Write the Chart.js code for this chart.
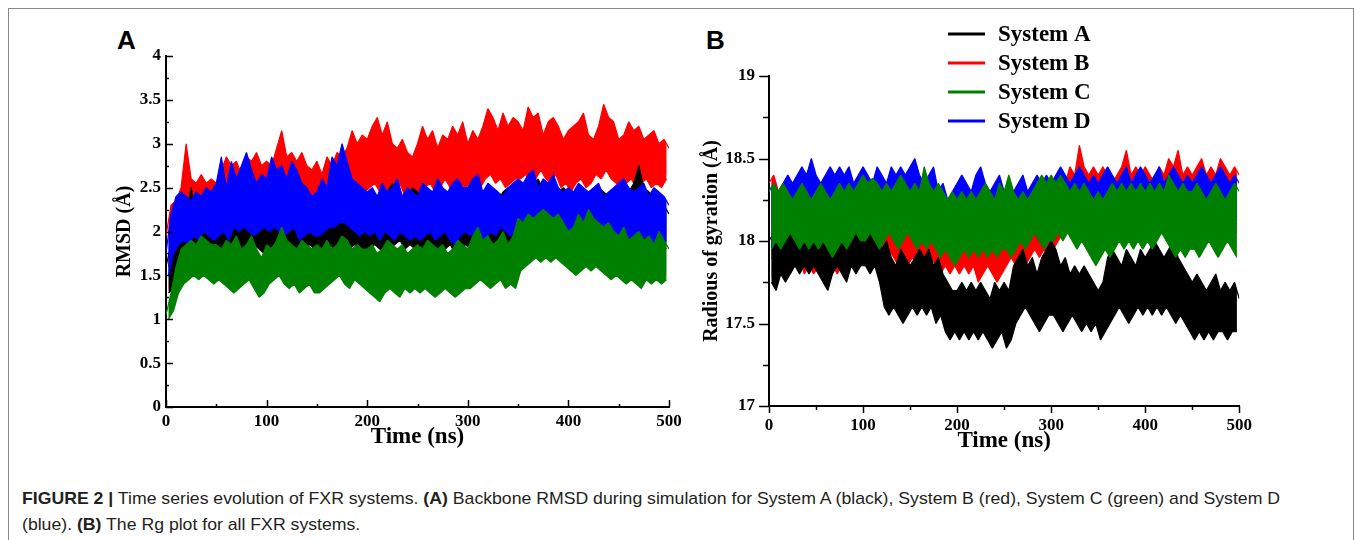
<!DOCTYPE html>
<html><head><meta charset="utf-8">
<script src="https://cdn.jsdelivr.net/npm/chart.js@4.4.1/dist/chart.umd.min.js"></script>
<style>
html,body{margin:0;padding:0;background:#fff;width:1355px;height:540px;overflow:hidden;position:relative;}
#frame{position:absolute;left:8px;top:8px;width:1346px;height:620px;border:1px solid #8a8a8a;box-sizing:border-box;}
canvas{position:absolute;}
#cA{left:96px;top:40px;}
#cB{left:690px;top:20px;}
.plabel{position:absolute;font-family:'Liberation Sans',Arial,sans-serif;font-weight:bold;font-size:26px;line-height:26px;color:#000;}
.cap{position:absolute;left:22px;font-family:'Liberation Sans',Arial,sans-serif;font-size:17px;line-height:20px;color:#231f20;white-space:nowrap;transform-origin:0 50%;display:inline-block;}
</style></head>
<body>
<div id="frame"></div>
<div class="plabel" style="left:117px;top:27px;">A</div>
<div class="plabel" style="left:706px;top:27px;">B</div>
<canvas id="cA" width="593" height="420"></canvas>
<canvas id="cB" width="571" height="440"></canvas>
<div class="cap" id="cap1" style="top:489px;"><b>FIGURE 2 |</b> Time series evolution of FXR systems. <b>(A)</b> Backbone RMSD during simulation for System A (black), System B (red), System C (green) and System D</div>
<div class="cap" id="cap2" style="top:515px;">(blue). <b>(B)</b> The Rg plot for all FXR systems.</div>
<script>
// ---- Sampling: envelope maxima read at t = 0,5,...,500 ns, minima at t = 2.5,7.5,...,497.5 ns ----
const STEP_NS = 5;
const seriesLabels = ['System A', 'System B', 'System C', 'System D'];
const seriesColors = ['#000000', '#ff0000', '#008000', '#0000ff'];

// Panel A: RMSD (Å)
const rmsdA_hi = [1.6,1.85,2.05,2.1,2.2,2.5,2.15,2.25,2.2,2.3, 2.25,2.35,2.3,2.5,2.35,2.4,2.3,2.4,2.45,2.3, 2.4,2.35,2.45,2.3,2.4,2.35,2.3,2.25,2.3,2.4, 2.35,2.3,2.45,2.4,2.55,2.35,2.45,2.3,2.25,2.35, 2.3,2.4,2.35,2.3,2.45,2.55,2.4,2.35,2.3,2.5, 2.45,2.35,2.4,2.3,2.35,2.45,2.4,2.5,2.35,2.45, 2.4,2.35,2.5,2.45,2.3,2.4,2.35,2.45,2.5,2.4, 2.45,2.5,2.4,2.55,2.6,2.45,2.5,2.55,2.45,2.5, 2.45,2.4,2.5,2.45,2.35,2.4,2.5,2.45,2.4,2.35, 2.4,2.5,2.45,2.55,2.75,2.5,2.45,2.4,2.35,2.3, 2.2];
const rmsdA_lo = [1.3,1.35,1.4,1.5,1.45,1.55,1.6,1.65,1.7,1.75, 1.75,1.8,1.75,1.8,1.85,1.75,1.8,1.85,1.8,1.75, 1.8,1.85,1.8,1.75,1.85,1.8,1.75,1.8,1.85,1.8, 1.8,1.75,1.85,1.8,1.85,1.9,1.8,1.85,1.8,1.75, 1.8,1.85,1.8,1.75,1.8,1.85,1.9,1.8,1.85,1.8, 1.75,1.8,1.85,1.8,1.75,1.8,1.85,1.75,1.8,1.85, 1.8,1.85,1.9,1.85,1.8,1.85,1.8,1.85,1.9,1.85, 1.9,1.95,1.9,1.95,2.0,1.95,1.9,1.95,1.9,1.85, 1.85,1.9,1.85,1.8,1.85,1.9,1.85,1.8,1.85,1.9, 1.85,1.8,1.85,1.9,1.85,1.8,1.85,1.8,1.85,1.8];
const rmsdB_hi = [1.95,2.3,2.35,2.5,3.0,2.6,2.55,2.65,2.55,2.6, 2.55,2.7,2.85,2.75,2.8,2.65,2.85,2.8,2.9,2.75, 2.8,2.75,2.95,3.15,2.85,2.9,2.8,2.9,2.75,2.7, 2.8,2.65,2.85,2.75,2.9,2.85,2.95,3.15,3.0,3.1, 3.05,3.2,3.3,3.1,3.25,3.0,2.95,3.05,2.9,2.85, 3.0,3.2,3.05,3.15,2.95,3.1,3.05,3.2,3.1,3.25, 3.0,3.15,3.05,3.2,3.4,3.3,3.15,3.35,3.2,3.3, 3.25,3.15,3.42,3.3,3.35,3.1,3.25,3.3,3.2,3.05, 3.15,3.2,3.25,3.35,3.1,3.05,3.2,3.45,3.3,3.25, 3.05,3.1,3.25,3.15,3.2,3.05,3.1,3.15,3.0,3.05, 2.95];
const rmsdB_lo = [1.6,1.8,2.05,2.1,2.2,2.15,2.25,2.2,2.1,2.2, 2.25,2.3,2.35,2.3,2.4,2.35,2.3,2.4,2.45,2.35, 2.4,2.35,2.45,2.5,2.4,2.35,2.45,2.4,2.3,2.35, 2.3,2.35,2.4,2.45,2.3,2.5,2.45,2.55,2.5,2.45, 2.5,2.55,2.45,2.4,2.5,2.45,2.55,2.4,2.35,2.3, 2.4,2.5,2.55,2.45,2.5,2.6,2.5,2.45,2.55,2.5, 2.55,2.6,2.5,2.6,2.65,2.55,2.6,2.5,2.55,2.6, 2.6,2.65,2.55,2.6,2.7,2.6,2.55,2.65,2.5,2.55, 2.45,2.55,2.6,2.5,2.55,2.65,2.6,2.7,2.6,2.55, 2.5,2.55,2.6,2.5,2.55,2.6,2.5,2.55,2.5,2.6];
const rmsdC_hi = [1.05,1.3,1.6,1.8,1.85,1.9,1.85,1.95,1.9,1.85, 1.85,1.8,1.9,1.85,1.95,1.8,1.85,1.95,1.8,1.7, 1.85,1.8,1.9,2.05,1.9,1.85,1.8,1.9,1.85,1.8, 1.85,1.8,1.9,1.8,1.85,1.95,1.9,1.8,1.85,1.8, 1.8,1.85,1.75,1.8,1.9,1.85,1.8,1.85,1.75,1.8, 1.85,1.8,1.9,1.85,1.8,1.85,1.75,1.8,1.9,1.85, 1.8,1.95,2.05,1.9,1.95,1.85,1.9,2.0,1.85,1.95, 2.15,2.1,2.2,2.15,2.2,2.25,2.2,2.15,2.2,2.1, 2.0,2.05,2.2,2.1,2.25,2.15,2.1,2.05,2.1,2.0, 1.95,2.05,1.9,1.95,2.0,1.9,1.95,1.85,2.0,1.9, 1.8];
const rmsdC_lo = [1.0,1.1,1.3,1.4,1.45,1.5,1.45,1.5,1.45,1.4, 1.45,1.4,1.35,1.3,1.35,1.4,1.45,1.35,1.25,1.3, 1.4,1.45,1.5,1.4,1.35,1.4,1.3,1.35,1.4,1.3, 1.3,1.35,1.4,1.45,1.5,1.4,1.35,1.45,1.4,1.35, 1.3,1.25,1.2,1.3,1.35,1.3,1.25,1.35,1.3,1.35, 1.3,1.35,1.3,1.25,1.3,1.35,1.3,1.25,1.3,1.35, 1.35,1.4,1.45,1.4,1.35,1.4,1.45,1.35,1.4,1.35, 1.55,1.6,1.65,1.7,1.65,1.7,1.65,1.7,1.65,1.6, 1.55,1.5,1.55,1.6,1.55,1.6,1.55,1.5,1.45,1.5, 1.45,1.4,1.45,1.4,1.35,1.45,1.4,1.45,1.4,1.45];
const rmsdD_hi = [1.75,2.2,2.4,2.45,2.4,2.35,2.45,2.4,2.5,2.45, 2.55,2.85,2.5,2.8,2.6,2.75,2.9,2.7,2.55,2.65, 2.6,2.85,2.7,2.75,2.6,2.8,2.7,2.55,2.5,2.4, 2.45,2.6,2.5,2.85,2.75,3.0,2.8,2.6,2.55,2.5, 2.45,2.5,2.4,2.55,2.45,2.5,2.6,2.4,2.5,2.45, 2.4,2.55,2.5,2.45,2.6,2.5,2.45,2.55,2.6,2.5, 2.5,2.6,2.65,2.45,2.55,2.5,2.45,2.4,2.5,2.55, 2.6,2.55,2.65,2.7,2.5,2.6,2.55,2.65,2.5,2.45, 2.5,2.45,2.55,2.5,2.45,2.5,2.55,2.4,2.45,2.5, 2.55,2.6,2.5,2.45,2.5,2.55,2.4,2.5,2.45,2.4, 2.3];
const rmsdD_lo = [1.5,1.75,1.85,1.9,1.85,1.95,1.9,2.0,1.95,1.9, 1.95,2.0,1.9,2.05,2.0,2.05,2.0,1.95,2.0,2.05, 2.0,2.05,2.0,1.95,2.0,2.05,1.9,1.95,2.0,1.95, 1.95,2.0,2.05,2.05,2.1,2.1,2.05,2.0,1.95,2.0, 1.95,2.0,1.9,2.0,1.95,1.9,2.0,1.95,1.9,1.95, 1.9,1.95,2.0,1.9,1.95,2.0,1.9,1.85,1.95,2.0, 1.95,2.0,1.95,1.9,2.0,1.95,2.05,2.0,1.95,2.0, 2.0,1.95,2.05,2.0,1.95,2.0,2.05,1.95,2.0,1.9, 1.9,1.85,1.95,2.0,1.9,1.95,1.85,1.9,1.95,1.9, 1.85,1.9,1.95,1.85,1.9,1.95,1.85,1.9,1.85,1.9];

// Panel B: Radius of gyration (Å)
const rgA_hi = [18.0,18.05,18.1,18.05,18.1,18.05,18.1,18.15,18.05,18.1, 18.05,18.1,18.0,18.2,18.3,18.1,18.05,18.15,18.1,18.05, 18.1,18.05,18.05,18.1,17.95,18.0,17.9,17.85,17.95,17.9, 17.85,17.9,17.95,17.9,17.95,17.85,17.9,17.8,17.75,17.7, 17.7,17.75,17.7,17.75,17.7,17.75,17.7,17.65,17.75,17.7, 17.75,17.7,17.85,17.9,17.95,17.85,17.9,17.8,17.9,17.95, 18.0,17.95,17.85,17.9,17.8,17.85,17.8,17.85,17.8,17.75, 17.7,17.75,17.9,17.95,17.9,17.85,17.95,17.9,17.85,17.95, 17.9,17.95,18.0,17.95,17.9,17.95,18.0,17.9,17.85,17.8, 17.75,17.8,17.75,17.7,17.75,17.8,17.7,17.75,17.7,17.75, 17.65];
const rgA_lo = [17.75,17.7,17.8,17.75,17.8,17.85,17.8,17.85,17.8,17.85, 17.8,17.75,17.7,17.8,17.85,17.8,17.75,17.85,17.8,17.85, 17.85,17.8,17.85,17.75,17.6,17.55,17.6,17.55,17.5,17.55, 17.6,17.55,17.6,17.55,17.6,17.5,17.55,17.45,17.4,17.45, 17.4,17.45,17.4,17.45,17.4,17.45,17.4,17.35,17.4,17.45, 17.35,17.4,17.5,17.55,17.6,17.55,17.5,17.45,17.5,17.55, 17.55,17.5,17.45,17.5,17.55,17.5,17.45,17.5,17.45,17.5, 17.4,17.45,17.5,17.55,17.6,17.55,17.5,17.55,17.6,17.55, 17.6,17.55,17.6,17.55,17.6,17.55,17.5,17.55,17.5,17.45, 17.4,17.45,17.4,17.45,17.4,17.45,17.45,17.4,17.45,17.45];
const rgB_hi = [18.35,18.4,18.3,18.35,18.3,18.25,18.3,18.25,18.3,18.25, 18.3,18.2,18.25,18.3,18.2,18.25,18.2,18.15,18.2,18.25, 18.2,18.25,18.2,18.15,18.2,18.1,18.15,18.2,18.15,18.1, 18.15,18.2,18.1,18.15,18.1,18.15,18.2,18.1,18.05,18.1, 18.1,18.15,18.1,18.05,18.1,18.15,18.1,18.05,18.1,18.15, 18.1,18.15,18.2,18.15,18.2,18.25,18.2,18.25,18.3,18.35, 18.3,18.35,18.4,18.35,18.45,18.4,18.58,18.45,18.4,18.45, 18.4,18.45,18.4,18.35,18.4,18.45,18.55,18.4,18.45,18.4, 18.45,18.4,18.35,18.45,18.4,18.5,18.45,18.55,18.4,18.45, 18.4,18.45,18.5,18.4,18.45,18.4,18.5,18.45,18.4,18.45, 18.4];
const rgB_lo = [17.9,17.85,17.9,17.85,17.8,17.85,17.9,17.8,17.85,17.8, 17.85,17.8,17.75,17.85,17.8,17.85,17.9,17.85,17.9,17.85, 17.9,17.95,17.9,17.85,17.9,17.95,17.9,17.85,17.9,17.85, 17.9,17.85,17.9,17.85,17.9,17.85,17.8,17.85,17.8,17.85, 17.8,17.85,17.8,17.85,17.75,17.8,17.85,17.8,17.75,17.8, 17.85,17.9,17.85,17.9,17.85,17.9,17.95,17.9,17.95,17.9, 17.95,18.0,18.05,18.1,18.05,18.1,18.05,18.1,18.05,18.0, 18.05,18.1,18.05,18.1,18.15,18.1,18.05,18.1,18.05,18.1, 18.1,18.05,18.1,18.05,18.1,18.15,18.1,18.05,18.1,18.05, 18.1,18.05,18.1,18.05,18.1,18.05,18.1,18.05,18.1,18.05];
const rgC_hi = [18.3,18.35,18.3,18.35,18.3,18.25,18.3,18.35,18.3,18.25, 18.3,18.35,18.3,18.25,18.3,18.35,18.3,18.35,18.3,18.35, 18.4,18.35,18.38,18.35,18.3,18.35,18.3,18.35,18.4,18.35, 18.3,18.35,18.3,18.45,18.35,18.3,18.35,18.3,18.25,18.3, 18.25,18.3,18.25,18.3,18.25,18.3,18.35,18.3,18.25,18.35, 18.3,18.4,18.3,18.25,18.3,18.25,18.3,18.35,18.4,18.35, 18.4,18.35,18.4,18.35,18.3,18.35,18.3,18.35,18.3,18.25, 18.3,18.25,18.3,18.35,18.3,18.35,18.3,18.35,18.3,18.35, 18.3,18.35,18.3,18.35,18.3,18.4,18.35,18.3,18.35,18.3, 18.3,18.35,18.3,18.25,18.3,18.35,18.3,18.25,18.3,18.35, 18.3];
const rgC_lo = [17.95,18.0,17.95,18.0,18.05,18.0,17.95,18.0,17.95,18.0, 17.95,18.0,17.95,17.9,17.95,18.0,17.95,18.0,18.05,18.0, 18.0,18.05,18.0,17.95,18.0,18.05,18.0,17.95,18.0,18.05, 18.0,17.95,18.0,17.95,18.0,17.95,17.9,17.95,17.9,17.85, 17.9,17.95,17.9,17.95,17.9,17.95,17.9,17.95,17.9,17.95, 17.95,17.9,17.95,18.0,17.95,18.0,18.05,18.0,17.95,18.0, 18.0,18.05,18.0,18.05,18.0,17.95,18.0,17.95,17.9,17.85, 17.9,17.95,17.9,17.95,18.0,17.95,18.0,17.95,18.0,17.95, 18.0,17.95,18.0,18.05,18.0,17.95,17.9,17.95,17.9,17.95, 17.95,17.9,17.95,18.0,17.95,17.9,17.95,18.0,17.95,17.9];
const rgD_hi = [18.3,18.35,18.3,18.35,18.4,18.35,18.4,18.45,18.4,18.5, 18.4,18.35,18.4,18.45,18.4,18.45,18.4,18.45,18.35,18.4, 18.45,18.4,18.35,18.45,18.4,18.35,18.45,18.4,18.45,18.4, 18.45,18.5,18.4,18.35,18.4,18.45,18.3,18.35,18.25,18.3, 18.35,18.4,18.35,18.3,18.4,18.45,18.35,18.3,18.35,18.4, 18.3,18.35,18.3,18.35,18.4,18.3,18.35,18.4,18.35,18.4, 18.35,18.4,18.45,18.4,18.35,18.4,18.45,18.4,18.35,18.4, 18.35,18.4,18.45,18.4,18.35,18.4,18.45,18.35,18.4,18.45, 18.4,18.35,18.4,18.45,18.35,18.4,18.45,18.4,18.35,18.4, 18.35,18.4,18.45,18.4,18.35,18.4,18.45,18.4,18.35,18.4, 18.35];
const rgD_lo = [17.95,18.0,18.05,18.1,18.05,18.1,18.05,18.1,18.15,18.1, 18.1,18.15,18.1,18.05,18.1,18.15,18.1,18.05,18.1,18.15, 18.1,18.15,18.1,18.05,18.1,18.15,18.1,18.05,18.1,18.05, 18.1,18.15,18.1,18.05,18.0,18.05,18.0,17.95,18.0,17.95, 18.0,17.95,18.0,18.05,18.0,17.95,18.0,17.95,18.05,18.0, 17.95,18.0,18.05,18.0,18.05,18.1,18.05,18.0,18.05,18.1, 18.1,18.05,18.1,18.15,18.1,18.05,18.1,18.15,18.1,18.15, 18.05,18.1,18.15,18.1,18.15,18.1,18.15,18.1,18.15,18.1, 18.15,18.1,18.05,18.1,18.0,18.05,18.1,18.15,18.1,18.15, 18.1,18.15,18.1,18.15,18.1,18.15,18.1,18.15,18.1,18.15];

// Axis ranges / tick steps
const xRange = [0, 500], xStep = 100;
const rmsdRange = [0, 4], rmsdStep = 0.5;
const rgRange = [17, 19], rgStep = 0.5;

function maxPoints(hi) { return hi.map((v, i) => ({ x: i * STEP_NS, y: v })); }
function minPoints(lo) { return lo.map((v, i) => ({ x: i * STEP_NS + STEP_NS / 2, y: v })); }

const SERIF = "'Liberation Serif','Times New Roman',serif";
// Drawing order (higher = further back): red at the back, then black, blue, green in front
const drawOrder = [2, 3, 0, 1];

function makeDatasets(pairs) {
  const out = [];
  pairs.forEach((p, i) => {
    const c = seriesColors[i];
    // upper envelope of the fluctuating trace, filled down to its lower envelope
    out.push({ label: seriesLabels[i], data: maxPoints(p[0]), borderColor: c, backgroundColor: c,
               borderWidth: 1.2, borderJoinStyle: 'bevel', pointRadius: 0, tension: 0,
               fill: '+1', order: drawOrder[i], isSeries: true });
    out.push({ label: seriesLabels[i] + ' min', data: minPoints(p[1]), borderColor: c, backgroundColor: c,
               borderWidth: 1.2, borderJoinStyle: 'bevel', pointRadius: 0, tension: 0,
               fill: false, order: drawOrder[i] });
  });
  return out;
}

const tickMarks = {
  id: 'tickMarks',
  afterDraw(chart, args, o) {
    const ctx = chart.ctx, ca = chart.chartArea;
    const xs = chart.scales.x, ys = chart.scales.y;
    ctx.save();
    ctx.strokeStyle = '#000';
    ctx.lineWidth = 1.5;
    const xv = xs.ticks.map(t => t.value), yv = ys.ticks.map(t => t.value);
    const line = (x1, y1, x2, y2) => { ctx.beginPath(); ctx.moveTo(x1, y1); ctx.lineTo(x2, y2); ctx.stroke(); };
    xv.forEach((v, i) => {
      const p = Math.round(xs.getPixelForValue(v)) + 0.5;
      line(p, ca.bottom, p, ca.bottom + o.xDir * o.xMajor);
      if (i < xv.length - 1) {
        const q = Math.round(xs.getPixelForValue((v + xv[i + 1]) / 2)) + 0.5;
        line(q, ca.bottom, q, ca.bottom + o.xDir * o.xMinor);
      }
    });
    yv.forEach((v, i) => {
      const p = Math.round(ys.getPixelForValue(v)) + 0.5;
      line(ca.left, p, ca.left + o.yDir * o.yMajor, p);
      if (i < yv.length - 1) {
        const q = Math.round(ys.getPixelForValue((v + yv[i + 1]) / 2)) + 0.5;
        line(ca.left, q, ca.left + o.yDir * o.yMinor, q);
      }
    });
    ctx.restore();
  }
};

const legendB = {
  id: 'legendB',
  afterDraw(chart) {
    const ctx = chart.ctx;
    ctx.save();
    chart.data.datasets.filter(d => d.isSeries).forEach((ds, i) => {
      const y = 14 + i * 29;
      ctx.strokeStyle = ds.borderColor;
      ctx.lineWidth = 3;
      ctx.beginPath(); ctx.moveTo(258, y); ctx.lineTo(295, y); ctx.stroke();
      ctx.fillStyle = '#000';
      ctx.font = 'bold 23px ' + SERIF;
      ctx.textBaseline = 'middle';
      ctx.textAlign = 'left';
      ctx.fillText(ds.label, 308, y + 1);
    });
    ctx.restore();
  }
};

const fmt = v => String(Math.round(v * 100) / 100);

function axisX(height, tickPad, titlePadBottom) {
  return {
    type: 'linear', min: xRange[0], max: xRange[1],
    ticks: { stepSize: xStep, color: '#000', padding: tickPad, maxRotation: 0, callback: fmt,
             font: { family: SERIF, size: 17, weight: 'bold' } },
    grid: { display: false, drawTicks: false },
    border: { display: true, color: '#000', width: 2 },
    title: { display: true, text: 'Time (ns)', color: '#000',
             font: { family: SERIF, size: 23, weight: 'bold' },
             padding: { top: 0, bottom: titlePadBottom } },
    afterFit: s => { s.height = height; }
  };
}
function axisY(range, step, text, width, tickPad, titlePadTop) {
  return {
    type: 'linear', min: range[0], max: range[1],
    ticks: { stepSize: step, color: '#000', padding: tickPad, callback: fmt,
             font: { family: SERIF, size: 17, weight: 'bold' } },
    grid: { display: false, drawTicks: false },
    border: { display: true, color: '#000', width: 2 },
    title: { display: true, text: text, color: '#000',
             font: { family: SERIF, size: 20, weight: 'bold' },
             padding: { top: titlePadTop, bottom: 0 } },
    afterFit: s => { s.width = width; }
  };
}

Chart.defaults.font.family = SERIF;

new Chart(document.getElementById('cA'), {
  type: 'line',
  data: { datasets: makeDatasets([[rmsdA_hi, rmsdA_lo], [rmsdB_hi, rmsdB_lo], [rmsdC_hi, rmsdC_lo], [rmsdD_hi, rmsdD_lo]]) },
  options: {
    responsive: false, animation: false, events: [],
    layout: { padding: { top: 16, right: 20, left: 0, bottom: 0 } },
    plugins: { legend: { display: false }, tooltip: { enabled: false }, filler: { propagate: false },
               tickMarks: { xDir: -1, xMajor: 7, xMinor: 3, yDir: 1, yMajor: 7, yMinor: 3 } },
    scales: {
      x: axisX(53, 4, 9),
      y: axisY(rmsdRange, rmsdStep, 'RMSD (Å)', 70, 5, 17)
    }
  },
  plugins: [tickMarks]
});

new Chart(document.getElementById('cB'), {
  type: 'line',
  data: { datasets: makeDatasets([[rgA_hi, rgA_lo], [rgB_hi, rgB_lo], [rgC_hi, rgC_lo], [rgD_hi, rgD_lo]]) },
  options: {
    responsive: false, animation: false, events: [],
    layout: { padding: { top: 56, right: 20, left: 0, bottom: 0 } },
    plugins: { legend: { display: false }, tooltip: { enabled: false }, filler: { propagate: false },
               tickMarks: { xDir: 1, xMajor: 7, xMinor: 4, yDir: -1, yMajor: 10, yMinor: 6 } },
    scales: {
      x: axisX(54, 9, 5),
      y: axisY(rgRange, rgStep, 'Radious of gyration (Å)', 79, 14, 10)
    }
  },
  plugins: [tickMarks, legendB]
});

// Caption: stretch to the reference line length
(function () {
  const c1 = document.getElementById('cap1'), c2 = document.getElementById('cap2');
  const w = c1.getBoundingClientRect().width;
  const k = 1258 / w;
  c1.style.transform = 'scaleX(' + k + ')';
  c2.style.transform = 'scaleX(' + k + ')';
})();
</script>
</body></html>
